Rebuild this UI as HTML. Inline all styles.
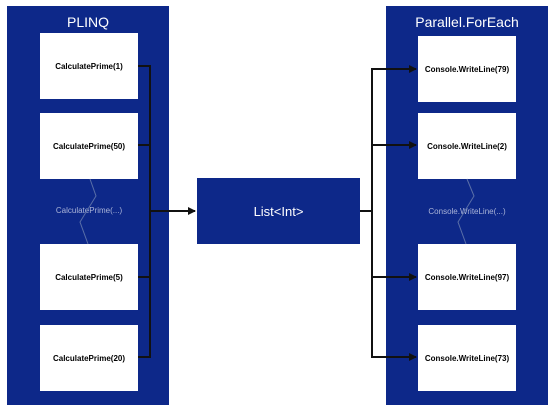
<!DOCTYPE html>
<html><head><style>
body{margin:0;width:556px;height:412px;background:#fff;position:relative;overflow:hidden;font-family:"Liberation Sans",sans-serif}
.p{position:absolute;background:#0d2889;top:6px;height:399px;width:162px}
.t{position:absolute;color:#fff;font-size:14px;width:100%;text-align:center;top:8px}
.b{position:absolute;background:#fff;width:98px;height:66px;font-size:8px;font-weight:bold;display:flex;align-items:center;justify-content:center;color:#000}
.g{position:absolute;color:#aab4d8;font-size:8px;width:110px;text-align:center}
</style></head><body>
<div class="p" style="left:7px"><div class="t">PLINQ</div></div>
<div class="p" style="left:386px"><div class="t">Parallel.ForEach</div></div>
<div class="b" style="left:40px;top:33px">CalculatePrime(1)</div>
<div class="b" style="left:40px;top:113px">CalculatePrime(50)</div>
<div class="b" style="left:40px;top:244px">CalculatePrime(5)</div>
<div class="b" style="left:40px;top:325px">CalculatePrime(20)</div>
<div class="g" style="left:34px;top:206px">CalculatePrime(...)</div>
<div class="b" style="left:418px;top:36px">Console.WriteLine(79)</div>
<div class="b" style="left:418px;top:113px">Console.WriteLine(2)</div>
<div class="b" style="left:418px;top:244px">Console.WriteLine(97)</div>
<div class="b" style="left:418px;top:325px">Console.WriteLine(73)</div>
<div class="g" style="left:412px;top:207px">Console.WriteLine(...)</div>
<div style="position:absolute;left:197px;top:178px;width:163px;height:66px;background:#0d2889;color:#fff;font-size:13px;display:flex;align-items:center;justify-content:center">List&lt;Int&gt;</div>
<svg width="556" height="412" style="position:absolute;left:0;top:0">
<defs><marker id="a" markerWidth="8" markerHeight="8" refX="7" refY="4" orient="auto" markerUnits="userSpaceOnUse"><path d="M0,0L8,4L0,8z" fill="#111"/></marker></defs>
<g stroke="#5a6fa8" fill="none" stroke-width="1"><path d="M90,179 L96,196 L80,222 L88,244"/><path d="M467,179 L474,196 L458,222 L466,244"/></g>
<g stroke="#111" stroke-width="2" fill="none">
<path d="M138,66H150M138,145H150M138,277H150M138,357H150M150,65V358"/>
<path d="M150,211H195" marker-end="url(#a)"/>
<path d="M360,211H372M372,68V358"/>
<path d="M372,69H416" marker-end="url(#a)"/>
<path d="M372,145H416" marker-end="url(#a)"/>
<path d="M372,277H416" marker-end="url(#a)"/>
<path d="M372,357H416" marker-end="url(#a)"/>
</g></svg>
</body></html>
